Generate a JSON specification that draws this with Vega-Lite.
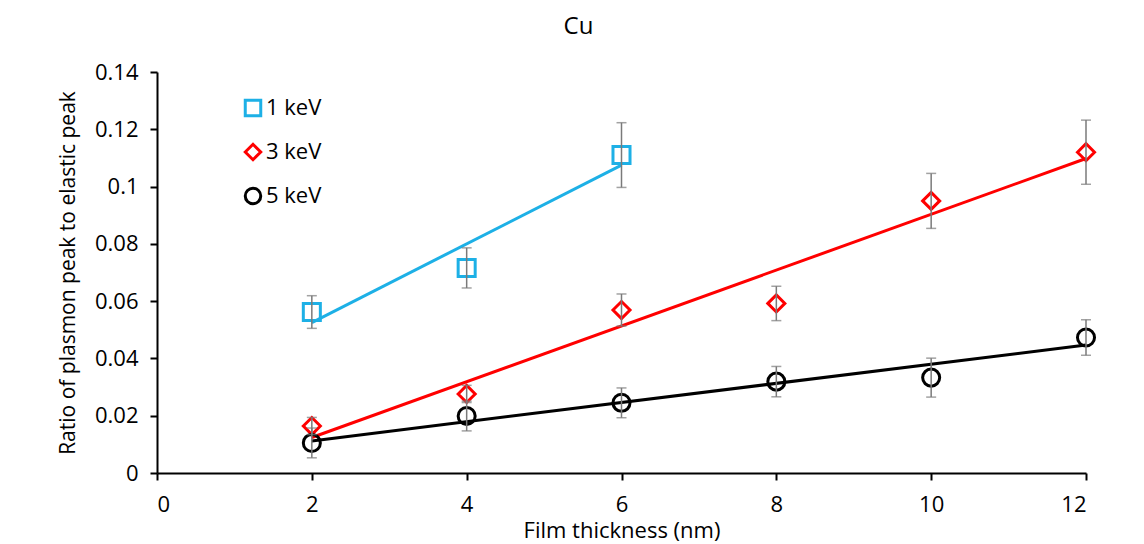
{
  "$schema": "https://vega.github.io/schema/vega-lite/v6.json",
  "autosize": "none",
  "width": 929,
  "height": 401,
  "padding": {"left": 157, "top": 72, "right": 58, "bottom": 71},
  "background": "white",
  "config": {
    "font": "Open Sans",
    "view": {"stroke": null},
    "axis": {
      "grid": false,
      "domainColor": "black",
      "domainWidth": 2,
      "tickColor": "black",
      "tickWidth": 2,
      "tickSize": 7,
      "labelFont": "Open Sans",
      "labelFontSize": 22,
      "labelColor": "black",
      "titleFont": "Open Sans",
      "titleFontWeight": "normal",
      "titleColor": "black"
    }
  },
  "title": {"text": "Cu", "fontSize": 24, "fontWeight": "normal", "font": "Open Sans", "color": "black", "offset": 22, "dx": -43},
  "datasets": {
    "points": [
      {"series": "1 keV", "thickness": 2, "ratio": 0.0562, "err": 0.0057},
      {"series": "1 keV", "thickness": 4, "ratio": 0.0716, "err": 0.007},
      {"series": "1 keV", "thickness": 6, "ratio": 0.111, "err": 0.0113},
      {"series": "3 keV", "thickness": 2, "ratio": 0.0164, "err": 0.003},
      {"series": "3 keV", "thickness": 4, "ratio": 0.0276, "err": 0.003},
      {"series": "3 keV", "thickness": 6, "ratio": 0.0569, "err": 0.0056},
      {"series": "3 keV", "thickness": 8, "ratio": 0.0592, "err": 0.006},
      {"series": "3 keV", "thickness": 10, "ratio": 0.095, "err": 0.0096},
      {"series": "3 keV", "thickness": 12, "ratio": 0.112, "err": 0.0112},
      {"series": "5 keV", "thickness": 2, "ratio": 0.0105, "err": 0.0052},
      {"series": "5 keV", "thickness": 4, "ratio": 0.0199, "err": 0.0052},
      {"series": "5 keV", "thickness": 6, "ratio": 0.0245, "err": 0.0052},
      {"series": "5 keV", "thickness": 8, "ratio": 0.0319, "err": 0.0053},
      {"series": "5 keV", "thickness": 10, "ratio": 0.0333, "err": 0.0068},
      {"series": "5 keV", "thickness": 12, "ratio": 0.0473, "err": 0.0062}
    ],
    "trend": [
      {"series": "1 keV", "thickness": 2, "ratio": 0.0525},
      {"series": "1 keV", "thickness": 6, "ratio": 0.1075},
      {"series": "3 keV", "thickness": 2, "ratio": 0.0124},
      {"series": "3 keV", "thickness": 12, "ratio": 0.1098},
      {"series": "5 keV", "thickness": 2, "ratio": 0.0112},
      {"series": "5 keV", "thickness": 12, "ratio": 0.0447}
    ]
  },
  "encoding": {
    "x": {"field": "thickness", "type": "quantitative", "scale": {"domain": [0, 12], "nice": false},
          "axis": {"values": [0, 2, 4, 6, 8, 10, 12], "title": "Film thickness (nm)", "titleFontSize": 22, "labelPadding": 14, "titlePadding": 5}},
    "y": {"field": "ratio", "type": "quantitative", "scale": {"domain": [0, 0.14], "nice": false},
          "axis": {"values": [0, 0.02, 0.04, 0.06, 0.08, 0.1, 0.12, 0.14], "format": ".2~f", "title": "Ratio of plasmon peak to elastic peak", "titleFontSize": 21, "labelPadding": 12, "titlePadding": 16}}
  },
  "layer": [
    {
      "data": {"name": "trend"},
      "mark": {"type": "line", "strokeWidth": 3},
      "encoding": {
        "color": {"field": "series", "type": "nominal", "legend": null,
                  "scale": {"domain": ["1 keV", "3 keV", "5 keV"], "range": ["#1DB0E6", "#FF0000", "#000000"]}},
        "detail": {"field": "series"}
      }
    },
    {
      "data": {"name": "points"},
      "mark": {"type": "point", "filled": false, "strokeWidth": 3, "opacity": 1, "size": 290},
      "encoding": {
        "shape": {"field": "series", "type": "nominal",
                  "scale": {"domain": ["1 keV", "3 keV", "5 keV"], "range": ["square", "diamond", "circle"]},
                  "legend": {"title": null, "orient": "none", "legendX": 85, "legendY": 25, "labelFontSize": 22, "labelFont": "Open Sans", "labelColor": "black", "rowPadding": 16, "labelOffset": 2, "symbolStrokeWidth": 3, "symbolSize": 240}},
        "stroke": {"field": "series", "type": "nominal",
                   "scale": {"domain": ["1 keV", "3 keV", "5 keV"], "range": ["#1DB0E6", "#FF0000", "#000000"]},
                   "legend": {"title": null, "orient": "none", "legendX": 85, "legendY": 25, "labelFontSize": 22, "labelFont": "Open Sans", "labelColor": "black", "rowPadding": 16, "labelOffset": 2, "symbolStrokeWidth": 3, "symbolSize": 240}}
      }
    },
    {
      "data": {"name": "points"},
      "mark": {"type": "errorbar", "color": "#7a7a7a", "thickness": 1.5, "ticks": {"size": 10, "thickness": 1.5, "color": "#7a7a7a"}},
      "encoding": {
        "yError": {"field": "err"}
      }
    }
  ],
  "resolve": {"scale": {"color": "independent"}}
}
